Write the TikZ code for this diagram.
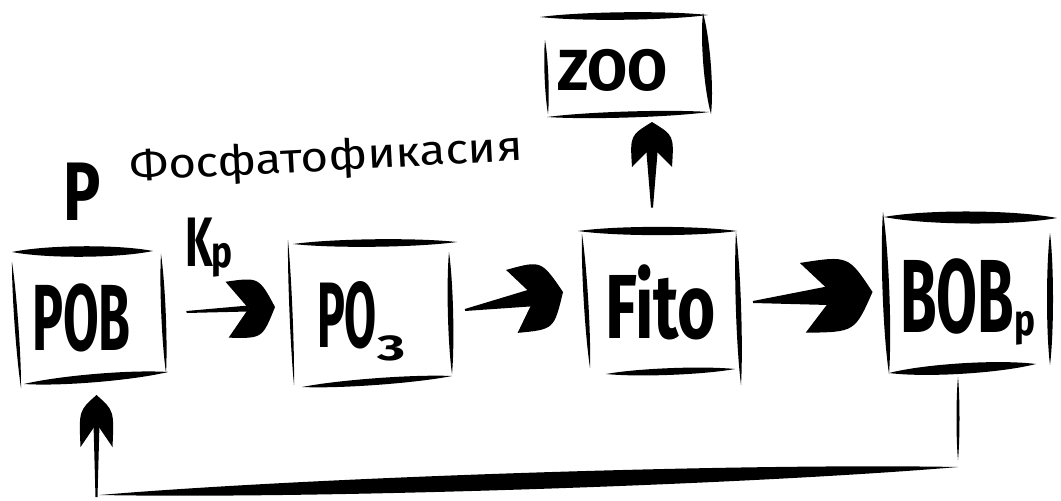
\documentclass[tikz,border=0pt]{standalone}
\usepackage{fontspec}
\usepackage{graphicx}
\setmainfont{Fira Sans}
\usetikzlibrary{calc}
% tapered hand-drawn stroke: #1 start, #2 end, #3 bulge
\newcommand\inkline[3]{\fill #1 .. controls ($#1!0.25!#2!#3!90:#2$) and ($#1!0.75!#2!#3!90:#2$) .. #2 .. controls ($#2!0.25!#1!#3!90:#1$) and ($#2!0.75!#1!#3!90:#1$) .. #1 -- cycle;}
% hand-drawn arrow: #1 tail, #2 tip, #3 shaft half width, #4 head length, #5 head half width
\newcommand\inkarrow[5]{%
 \coordinate (ia-q) at ($#2!0.55*#4!#1$);
 \coordinate (ia-p1) at ($#2!#4!#1!#5!90:#1$);
 \coordinate (ia-p2) at ($#2!#4!#1!#5!-90:#1$);
 \coordinate (ia-c1) at ($#2!0.3*#4!#1!1.1*#5!90:#1$);
 \coordinate (ia-c2) at ($#2!0.3*#4!#1!1.1*#5!-90:#1$);
 \fill ($#1!1pt!90:#2$) -- ($#1!1pt!-90:#2$) -- ($(ia-q)!#3!90:#1$) -- ($(ia-q)!#3!-90:#1$) -- cycle;
 \fill #2 .. controls (ia-c1) .. (ia-p1) .. controls ($(ia-q)!0.3!(ia-p1)$) .. (ia-q) .. controls ($(ia-q)!0.3!(ia-p2)$) .. (ia-p2) .. controls (ia-c2) .. #2 -- cycle;
}
\newcommand\hs[3]{{\fontsize{#2}{#2}\selectfont\scalebox{#1}[1]{#3}}}
\tikzset{
  boxn/.style={inner sep=0pt, outer sep=0pt},
  lbl/.style={inner sep=0pt, outer sep=0pt, font=\bfseries},
}
\begin{document}
\begin{tikzpicture}[x=1pt, y=-1pt]
\fill[white] (0,0) rectangle (1061,501);
\useasboundingbox (0,0) rectangle (1061,501);

% box nodes
\node[boxn, minimum width=151pt, minimum height=130pt] (pob) at (89,315) {};
\node[boxn, minimum width=160pt, minimum height=138pt] (po3) at (370,313) {};
\node[boxn, minimum width=160pt, minimum height=147pt] (fito) at (660,305) {};
\node[boxn, minimum width=169pt, minimum height=152pt] (bobp) at (967,294) {};
\node[boxn, minimum width=164pt, minimum height=98pt] (zoo) at (625,66) {};

% labels
\node[lbl, anchor=base west] (pobt) at (32,350) {\hs{0.55}{94}{РОВ}};
\node[lbl, anchor=base west] (po3t) at (317,347) {\hs{0.5}{93}{PO}\raisebox{-13pt}{\hs{1.5}{36}{3}}};
\node[lbl, anchor=base west] (fitot) at (605,338) {\hs{0.72}{91}{Fito}};
\node[lbl, anchor=base west] (bobpt) at (900,332) {\hs{0.57}{104}{ВОВ}\raisebox{-3pt}{\hs{0.8}{44}{р}}};
\node[lbl, anchor=base west] (zoot) at (557,90) {\hs{1.0}{58}{ZOO}};
\node[lbl, anchor=base west] (pt) at (63,220) {\hs{0.75}{83}{P}};
\node[lbl, anchor=base west] (kp) at (185,266) {\hs{0.62}{70}{K}\hspace{-1pt}\raisebox{-1pt}{\hs{0.8}{44}{p}}};
\node[inner sep=0pt, anchor=base west, rotate=3] (fosf) at (130,181) {\hs{1.13}{42}{Фосфатофикасия}};

% box outlines (hand-drawn strokes)
\inkline{(12,252)}{(153,251)}{7pt}
\inkline{(12,262)}{(21,388)}{2.5pt}
\inkline{(161,254)}{(166,373)}{3pt}
\inkline{(24,384)}{(168,372)}{5.5pt}

\inkline{(293,244)}{(457,242)}{5pt}
\inkline{(288,240)}{(294,385)}{2pt}
\inkline{(449,252)}{(452,374)}{3.5pt}
\inkline{(302,387)}{(452,376)}{4.5pt}

\inkline{(578,231)}{(737,231)}{5.5pt}
\inkline{(582,234)}{(590,368)}{3pt}
\inkline{(736,232)}{(741,385)}{3.5pt}
\inkline{(606,374)}{(735,369)}{4.5pt}

\inkline{(884,217)}{(1057,218)}{8pt}
\inkline{(883,212)}{(889,374)}{4.5pt}
\inkline{(1050,233)}{(1050,365)}{4pt}
\inkline{(889,373)}{(1036,364)}{7pt}

\inkline{(540,17)}{(708,15)}{5pt}
\inkline{(545,40)}{(548,114)}{2.5pt}
\inkline{(703,13)}{(711,114)}{5pt}
\inkline{(547,117)}{(709,112)}{4pt}

% connectors
\coordinate (a1s) at ($(pob.east)+(22,-3)$);
\coordinate (a1e) at ($(po3.west)+(-15,-6)$);
\inkarrow{(a1s)}{(a1e)}{3pt}{48pt}{28pt}

\coordinate (a2s) at ($(po3.east)+(15,-3)$);
\coordinate (a2e) at ($(fito.west)+(-17,-13)$);
\inkarrow{(a2s)}{(a2e)}{9pt}{52pt}{32pt}

\coordinate (a3s) at ($(fito.east)+(13,-3)$);
\coordinate (a3e) at ($(bobp.west)+(-10,-2)$);
\inkarrow{(a3s)}{(a3e)}{10pt}{70pt}{35pt}

\coordinate (a4s) at ($(fito.north)+(-8,-24)$);
\coordinate (a4e) at ($(zoo.south)+(27,7)$);
\inkarrow{(a4s)}{(a4e)}{6pt}{45pt}{20pt}

% feedback loop
\coordinate (fb1) at ($(bobp.south)+(-9,7)$);
\coordinate (fb2) at ($(bobp.south)+(-9,90)$);
\coordinate (fb3) at ($(bobp.south)+(-9,97)$);
\coordinate (fb4) at ($(pob.south west)+(86,115)$);
\coordinate (fb5) at ($(pob.south west)+(83,117)$);
\coordinate (fb6) at ($(pob.south west)+(83,15)$);
\inkline{(fb1)}{(fb2)}{2pt}
\inkline{(fb3)}{(fb4)}{11pt}
\inkarrow{(fb5)}{(fb6)}{3pt}{52pt}{16pt}
\end{tikzpicture}
\end{document}
